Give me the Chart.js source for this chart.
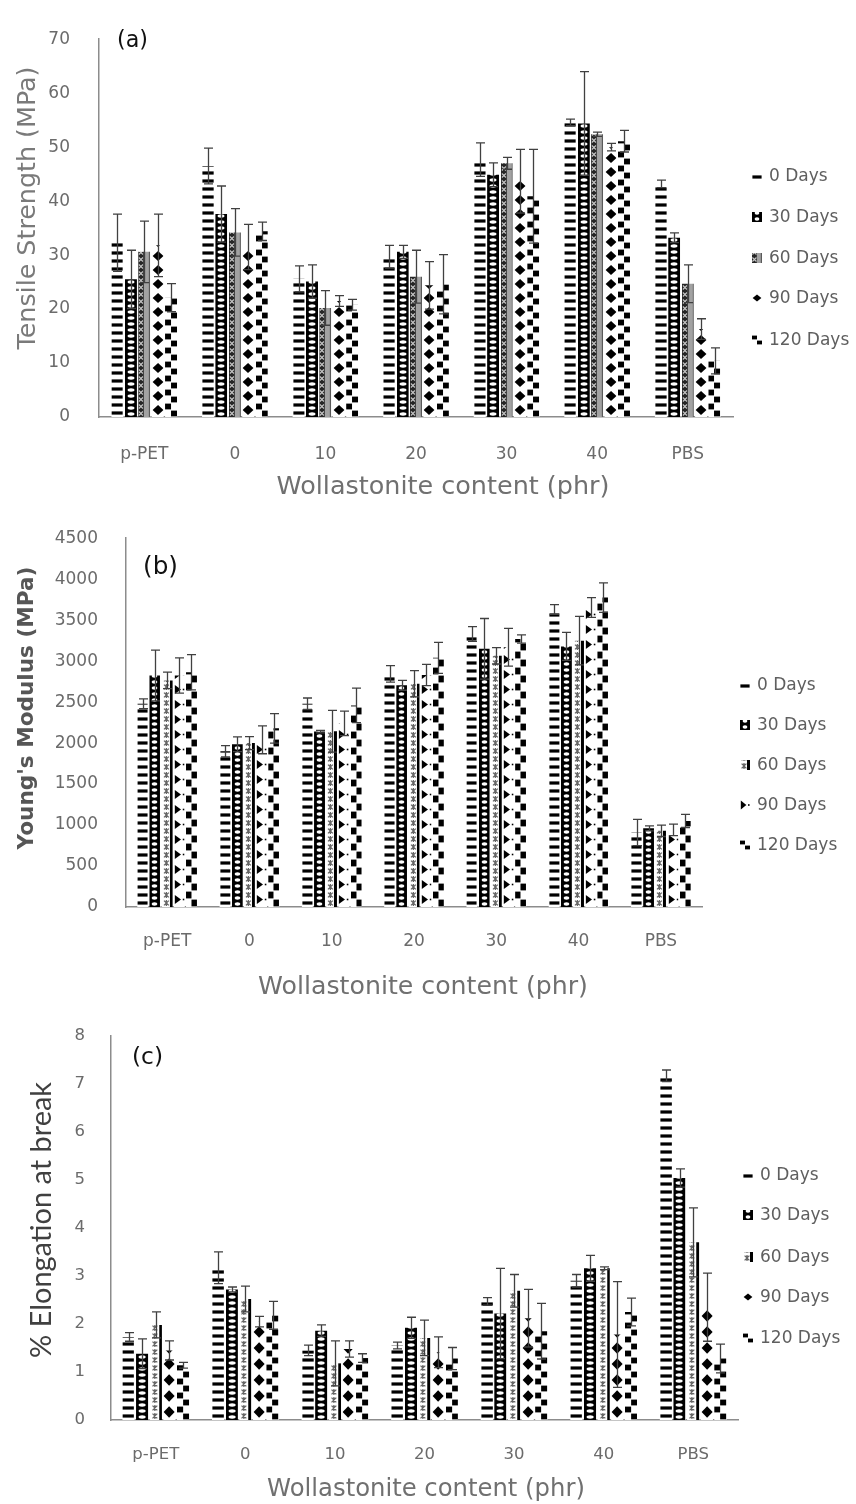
<!DOCTYPE html>
<html>
<head>
<meta charset="utf-8">
<script src="https://cdn.jsdelivr.net/npm/chart.js@4/dist/chart.umd.min.js"></script>
<style>
  html, body { margin: 0; padding: 0; background: #fff; }
  #wrap { position: relative; width: 856px; height: 1504px; overflow: hidden; }
  #wrap canvas { position: absolute; left: 0; }
</style>
</head>
<body>
<div id="wrap">
  <canvas id="chartA" width="856" height="510" style="top:0px"></canvas>
  <canvas id="chartB" width="856" height="510" style="top:500px"></canvas>
  <canvas id="chartC" width="856" height="504" style="top:1000px"></canvas>
</div>
<script>
// ---- data ----
const categories = ['p-PET', '0', '10', '20', '30', '40', 'PBS'];
const seriesLabels = ['0 Days', '30 Days', '60 Days', '90 Days', '120 Days'];

// (a) tensile strength, MPa
const tensile0   = [32.3, 46.5, 25.6, 29.7, 47.7, 54.6, 43.2];
const tensile30  = [25.5, 37.6, 25.1, 30.6, 44.9, 54.4, 33.2];
const tensile60  = [30.6, 34.2, 20.2, 26.0, 47.0, 52.4, 24.7];
const tensile90  = [31.8, 31.5, 21.5, 24.4, 43.7, 50.0, 16.3];
const tensile120 = [22.1, 34.4, 20.8, 24.6, 40.9, 51.1, 10.4];
const tensileErr0   = [5.3, 3.3, 2.4, 2.1, 3.1, 0.6, 0.7];
const tensileErr30  = [5.4, 5.2, 3.1, 1.2, 2.2, 9.6, 0.9];
const tensileErr60  = [5.7, 4.4, 3.2, 4.9, 1.1, 0.4, 3.5];
const tensileErr90  = [5.8, 4.2, 1.0, 4.4, 5.9, 0.7, 1.9];
const tensileErr120 = [2.6, 1.7, 1.0, 5.5, 8.7, 2.0, 2.4];
const tensileTicks = { max: 70, step: 10 };

// (b) Young's modulus, MPa
const modulus0   = [2480, 1900, 2480, 2845, 3330, 3630, 910];
const modulus30  = [2825, 1985, 2140, 2705, 3150, 3180, 960];
const modulus60  = [2765, 2000, 2145, 2725, 3065, 3250, 930];
const modulus90  = [2825, 2040, 2240, 2830, 3170, 3655, 940];
const modulus120 = [2865, 2180, 2460, 3040, 3270, 3775, 1050];
const modulusErr0   = [60, 70, 70, 100, 90, 60, 160];
const modulusErr30  = [310, 90, 15, 60, 370, 170, 30];
const modulusErr60  = [100, 80, 255, 160, 100, 295, 70];
const modulusErr90  = [215, 170, 150, 130, 230, 120, 70];
const modulusErr120 = [215, 180, 210, 190, 50, 180, 80];
const modulusTicks = { max: 4500, step: 500 };

// (c) elongation at break, %
const elong0   = [1.73, 3.17, 1.45, 1.55, 2.47, 2.90, 7.17];
const elong30  = [1.38, 2.72, 1.86, 1.92, 2.22, 3.16, 5.04];
const elong60  = [1.98, 2.52, 1.18, 1.71, 2.69, 3.16, 3.70];
const elong90  = [1.45, 2.05, 1.48, 1.41, 2.12, 1.78, 2.35];
const elong120 = [1.14, 2.18, 1.29, 1.28, 1.85, 2.25, 1.28];
const elongErr0   = [0.09, 0.33, 0.11, 0.07, 0.08, 0.13, 0.12];
const elongErr30  = [0.31, 0.05, 0.12, 0.22, 0.94, 0.27, 0.19];
const elongErr60  = [0.27, 0.27, 0.47, 0.37, 0.34, 0.03, 0.72];
const elongErr90  = [0.20, 0.11, 0.17, 0.32, 0.60, 1.10, 0.71];
const elongErr120 = [0.06, 0.29, 0.09, 0.23, 0.58, 0.29, 0.30];
const elongTicks = { max: 8, step: 1 };

// ---- styling ----
const AXIS_COLOR = '#8c8c8c';
const TICK_COLOR = '#6b6b6b';
const TEXT_GRAY = '#707070';
const X_AXIS_H = 60;
const FONT = 'DejaVu Sans';

const panels = [
  {
    canvasId: 'chartA',
    values: [tensile0, tensile30, tensile60, tensile90, tensile120],
    errors: [tensileErr0, tensileErr30, tensileErr60, tensileErr90, tensileErr120],
    ticks: tensileTicks,
    area: { left: 99, right: 733, top: 19.5, bottom: 417 },
    catPct: 0.74, barPct: 0.9,
    tickSize: 17, xTickPad: 27.8, yTickPad: 29,
    fills: [['dash', 8], ['rings', 6], ['weave', 7], ['diamond', 14], ['checker', 14]],
    tag: { text: '(a)', x: 117, y: 41, width: 31 },
    yTitle: { text: 'Tensile Strength (MPa)', cx: 28, cy: 208, width: 283, color: '#7a7a7a', weight: 'normal', family: FONT },
    xTitle: { text: 'Wollastonite content (phr)', cx: 443, cy: 487, width: 333, color: TEXT_GRAY, family: FONT },
    legend: { swatchX: 752, textX: 769, ys: [176, 217, 258, 298, 340], size: 17 }
  },
  {
    canvasId: 'chartB',
    values: [modulus0, modulus30, modulus60, modulus90, modulus120],
    errors: [modulusErr0, modulusErr30, modulusErr60, modulusErr90, modulusErr120],
    ticks: modulusTicks,
    area: { left: 126, right: 702, top: 34, bottom: 407 },
    catPct: 0.74, barPct: 0.9,
    tickSize: 17, xTickPad: 24.8, yTickPad: 28,
    fills: [['dash', 8], ['rings', 6], ['flower', 8], ['triangle', 15], ['checker', 16]],
    tag: { text: '(b)', x: 143, y: 68, width: 35 },
    yTitle: { text: "Young's Modulus (MPa)", cx: 27, cy: 208, width: 283, color: '#565656', weight: 'bold', family: FONT },
    xTitle: { text: 'Wollastonite content (phr)', cx: 423, cy: 487, width: 330, color: TEXT_GRAY, family: FONT },
    legend: { swatchX: 740, textX: 757, ys: [185, 225, 265, 305, 345], size: 17 }
  },
  {
    canvasId: 'chartC',
    values: [elong0, elong30, elong60, elong90, elong120],
    errors: [elongErr0, elongErr30, elongErr60, elongErr90, elongErr120],
    ticks: elongTicks,
    area: { left: 111, right: 738, top: 22, bottom: 420 },
    catPct: 0.76, barPct: 0.9,
    tickSize: 16.5, xTickPad: 24.8, yTickPad: 26,
    fills: [['dash', 8], ['rings', 6], ['flower', 8], ['diamond', 16], ['checker', 14]],
    tag: { text: '(c)', x: 132, y: 58, width: 31 },
    yTitle: { text: '% Elongation at break', cx: 42, cy: 220, width: 276, color: '#404040', weight: 'normal', family: 'Lato' },
    xTitle: { text: 'Wollastonite content (phr)', cx: 426, cy: 490, width: 318, color: TEXT_GRAY, family: FONT },
    legend: { swatchX: 743, textX: 760, ys: [175, 215, 257, 297, 338], size: 17 }
  }
];

// ---- hatch fills, one tile per bar so the motif sits inside it ----
function drawMotif(g, kind, w, h) {
  g.fillStyle = '#fff';
  g.fillRect(0, 0, g.canvas.width, h);
  g.fillStyle = '#000';
  if (kind === 'dash') {
    g.fillRect(0.4, h - 5.6, w - 0.8, 3.2);
  } else if (kind === 'rings') {
    g.fillRect(0, 0, w, h);
    g.fillStyle = '#fff';
    g.beginPath();
    g.ellipse(w / 2, h / 2, Math.max(w / 2 - 2.6, 1), h / 2 - 1.3, 0, 0, Math.PI * 2);
    g.fill();
  } else if (kind === 'weave') {
    g.fillStyle = '#a2a2a2';
    g.fillRect(0, 0, w, h);
    g.fillStyle = '#262626';
    g.fillRect(0, 0, w * 0.48, h);
    g.strokeStyle = '#c8c8c8';
    g.lineWidth = 1.1;
    const cx = w * 0.24, cy = h / 2;
    g.beginPath();
    g.moveTo(cx - 2, cy - 2); g.lineTo(cx + 2, cy + 2);
    g.moveTo(cx + 2, cy - 2); g.lineTo(cx - 2, cy + 2);
    g.stroke();
    g.fillStyle = '#5a5a5a';
    g.fillRect(w - 1.2, 0, 1.2, h);
  } else if (kind === 'flower') {
    g.fillStyle = '#000';
    g.fillRect(w - 3, 0, 3, h);
    g.strokeStyle = '#666';
    g.lineWidth = 1.3;
    const cx = w * 0.4, cy = h / 2;
    g.beginPath();
    g.moveTo(cx - 2.4, cy - 2.4); g.lineTo(cx + 2.4, cy + 2.4);
    g.moveTo(cx + 2.4, cy - 2.4); g.lineTo(cx - 2.4, cy + 2.4);
    g.moveTo(cx, cy - 3); g.lineTo(cx, cy + 3);
    g.stroke();
  } else if (kind === 'diamond') {
    const hw = w / 2 - 0.6, hh = h * 0.36;
    g.beginPath();
    g.moveTo(w / 2, h / 2 - hh);
    g.lineTo(w / 2 + hw, h / 2);
    g.lineTo(w / 2, h / 2 + hh);
    g.lineTo(w / 2 - hw, h / 2);
    g.closePath();
    g.fill();
  } else if (kind === 'triangle') {
    g.beginPath();
    g.moveTo(0.8, h / 2 - 4.6);
    g.lineTo(w * 0.64, h / 2);
    g.lineTo(0.8, h / 2 + 4.6);
    g.closePath();
    g.fill();
    g.fillRect(w * 0.8, h / 2 - 0.8, 1.6, 1.6);
  } else if (kind === 'checker') {
    const c = h / 2;
    g.fillRect(0, 0.6, w / 2, c - 1.2);
    g.fillRect(w / 2, c + 0.6, w / 2, c - 1.2);
  }
}

function makeFill(ctx, kind, period, w, left, base) {
  const tile = document.createElement('canvas');
  tile.width = Math.ceil(w) + 6;
  tile.height = period;
  drawMotif(tile.getContext('2d'), kind, w, period);
  const pat = ctx.createPattern(tile, 'repeat');
  pat.setTransform(new DOMMatrix([1, 0, 0, 1, Math.round(left), Math.round(base)]));
  return pat;
}

function barFill(panel) {
  return (c) => {
    if (c.type !== 'data') return '#000';
    const chart = c.chart;
    const xs = chart.scales.x, ys = chart.scales.y;
    if (!xs || !ys || !xs.width) return '#000';
    const n = chart.data.datasets.length;
    const catW = xs.width / chart.data.labels.length;
    const groupW = catW * panel.catPct;
    const slot = groupW / n;
    const bw = slot * panel.barPct;
    const left = xs.getPixelForValue(c.dataIndex) - groupW / 2 + c.datasetIndex * slot + (slot - bw) / 2;
    const [kind, period] = panel.fills[c.datasetIndex];
    return makeFill(chart.ctx, kind, period, bw, left, ys.getPixelForValue(0));
  };
}

// ---- error bars (symmetric, drawn over the bars) ----
const errorBarPlugin = {
  id: 'errorBars',
  afterDatasetsDraw(chart) {
    const ctx = chart.ctx, ys = chart.scales.y;
    ctx.save();
    ctx.strokeStyle = '#404040';
    ctx.lineWidth = 1.3;
    chart.data.datasets.forEach((ds, i) => {
      const meta = chart.getDatasetMeta(i);
      meta.data.forEach((bar, j) => {
        const v = ds.data[j], e = ds.errors[j];
        const top = ys.getPixelForValue(v + e);
        const bot = ys.getPixelForValue(Math.max(v - e, 0));
        const x = Math.round(bar.x) + 0.5;
        ctx.beginPath();
        ctx.moveTo(x, top); ctx.lineTo(x, bot);
        ctx.moveTo(x - 4.5, top); ctx.lineTo(x + 4.5, top);
        ctx.moveTo(x - 4.5, bot); ctx.lineTo(x + 4.5, bot);
        ctx.stroke();
      });
    });
    ctx.restore();
  }
};

// text sized so that it spans the given width
function fitFont(ctx, text, family, weight, width) {
  ctx.font = `${weight} 24px "${family}"`;
  const m = ctx.measureText(text).width;
  const size = 24 * width / m;
  return `${weight} ${size.toFixed(2)}px "${family}"`;
}

// panel tag, axis titles and legend
function makeDecor(panel) {
  return {
    id: 'decor',
    afterDraw(chart) {
      const ctx = chart.ctx;
      ctx.save();
      ctx.textBaseline = 'middle';

      // panel tag
      ctx.fillStyle = '#111';
      ctx.textAlign = 'left';
      ctx.font = fitFont(ctx, panel.tag.text, FONT, 'normal', panel.tag.width);
      ctx.fillText(panel.tag.text, panel.tag.x, panel.tag.y);

      // y title
      const yt = panel.yTitle;
      ctx.save();
      ctx.translate(yt.cx, yt.cy);
      ctx.rotate(-Math.PI / 2);
      ctx.textAlign = 'center';
      ctx.fillStyle = yt.color;
      ctx.font = fitFont(ctx, yt.text, yt.family, yt.weight, yt.width);
      ctx.fillText(yt.text, 0, 0);
      ctx.restore();

      // x title
      const xt = panel.xTitle;
      ctx.textAlign = 'center';
      ctx.fillStyle = xt.color;
      ctx.font = fitFont(ctx, xt.text, xt.family, 'normal', xt.width);
      ctx.fillText(xt.text, xt.cx, xt.cy);

      // legend
      const lg = panel.legend;
      ctx.textAlign = 'left';
      ctx.font = `${lg.size}px "${FONT}"`;
      chart.data.datasets.forEach((ds, i) => {
        const y = lg.ys[i];
        const [kind, period] = panel.fills[i];
        const sw = 10;
        ctx.fillStyle = makeFill(ctx, kind, Math.min(period, 10), sw, lg.swatchX, y + sw / 2);
        ctx.fillRect(lg.swatchX, Math.round(y - sw / 2), sw, sw);
        ctx.fillStyle = '#5f5f5f';
        ctx.fillText(ds.label, lg.textX, y + 1);
      });
      ctx.restore();
    }
  };
}

function buildChart(panel) {
  const canvas = document.getElementById(panel.canvasId);
  const H = canvas.height;
  const datasets = seriesLabels.map((label, i) => ({
    label,
    data: panel.values[i],
    errors: panel.errors[i],
    backgroundColor: barFill(panel),
    borderWidth: 0,
    categoryPercentage: panel.catPct,
    barPercentage: panel.barPct
  }));
  const axisBorder = { display: true, color: AXIS_COLOR, width: 1.5 };
  const tickFont = { family: FONT, size: panel.tickSize };
  return new Chart(canvas, {
    type: 'bar',
    data: { labels: categories, datasets },
    options: {
      responsive: false,
      animation: false,
      devicePixelRatio: 1,
      events: [],
      layout: {
        padding: {
          left: 0,
          top: panel.area.top,
          right: 856 - panel.area.right,
          bottom: H - panel.area.bottom - X_AXIS_H
        }
      },
      plugins: { legend: { display: false }, tooltip: { enabled: false } },
      scales: {
        x: {
          grid: { display: false, drawTicks: false },
          border: axisBorder,
          ticks: { color: TICK_COLOR, font: tickFont, padding: panel.xTickPad, maxRotation: 0, autoSkip: false },
          afterFit: (s) => { s.height = X_AXIS_H; }
        },
        y: {
          min: 0,
          max: panel.ticks.max,
          grid: { display: false, drawTicks: false },
          border: axisBorder,
          ticks: {
            stepSize: panel.ticks.step,
            color: TICK_COLOR,
            font: tickFont,
            padding: panel.yTickPad,
            callback: (v) => String(v)
          },
          afterFit: (s) => { s.width = panel.area.left; }
        }
      }
    },
    plugins: [errorBarPlugin, makeDecor(panel)]
  });
}

panels.forEach(buildChart);
</script>
</body>
</html>
